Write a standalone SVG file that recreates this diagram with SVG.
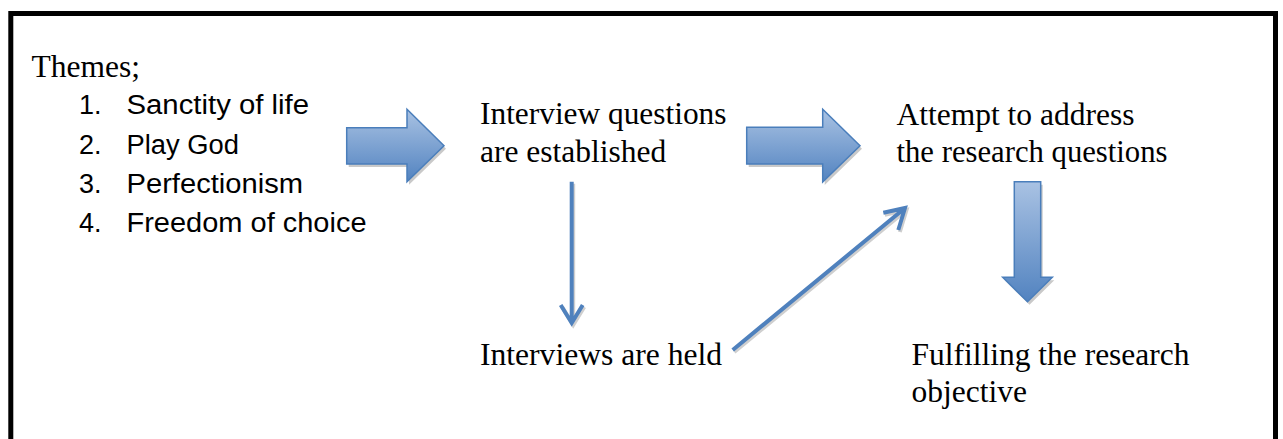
<svg xmlns="http://www.w3.org/2000/svg" width="1283" height="439" viewBox="0 0 1283 439">
<style>
.serif{font-family:"Liberation Serif","Times New Roman",serif;font-size:31.5px;fill:#000}
.sans{font-family:"Liberation Sans",Arial,sans-serif;font-size:27px;fill:#000}
.block{stroke:#4a7ebb;stroke-width:1.5;stroke-linejoin:miter}
.shadow{fill:#c9c9c9;stroke:none}
.thin{fill:none;stroke:#4f81bd;stroke-width:4;stroke-linecap:butt}
.thinsh{fill:none;stroke:#cfcfcf;stroke-width:4}
</style>
<defs>
<linearGradient id="gv" x1="0" y1="0" x2="0" y2="1">
<stop offset="0" stop-color="#a9c2e3"/>
<stop offset="1" stop-color="#5283c0"/>
</linearGradient>
</defs>
<rect x="0" y="0" width="1283" height="439" fill="#fff"/>
<path d="M10.8,439 V13.5 H1275.5 V439" fill="none" stroke="#000" stroke-width="5"/>

<g id="themes">
<text class="serif" x="31.5" y="77">Themes;</text>
<text class="sans" x="79" y="114">1.</text>
<text class="sans" x="126.5" y="114" textLength="182.5" lengthAdjust="spacingAndGlyphs">Sanctity of life</text>
<text class="sans" x="79" y="153.5">2.</text>
<text class="sans" x="126.5" y="153.5" textLength="112.5" lengthAdjust="spacingAndGlyphs">Play God</text>
<text class="sans" x="79" y="192.5">3.</text>
<text class="sans" x="126.5" y="192.5" textLength="176.5" lengthAdjust="spacingAndGlyphs">Perfectionism</text>
<text class="sans" x="79" y="232">4.</text>
<text class="sans" x="126.5" y="232" textLength="240" lengthAdjust="spacingAndGlyphs">Freedom of choice</text>
</g>

<g id="interview-questions">
<text class="serif" x="480" y="123.5" textLength="246.5" lengthAdjust="spacingAndGlyphs">Interview questions</text>
<text class="serif" x="480" y="161.5">are established</text>
</g>

<g id="attempt">
<text class="serif" x="896.5" y="124.5">Attempt to address</text>
<text class="serif" x="896.5" y="161.5" textLength="271" lengthAdjust="spacingAndGlyphs">the research questions</text>
</g>

<g id="interviews-held">
<text class="serif" x="480" y="365" textLength="242" lengthAdjust="spacingAndGlyphs">Interviews are held</text>
</g>

<g id="fulfilling">
<text class="serif" x="911.5" y="365" textLength="278" lengthAdjust="spacingAndGlyphs">Fulfilling the research</text>
<text class="serif" x="911.5" y="401.5">objective</text>
</g>

<g id="connectors">
<!-- block arrow 1 -->
<path class="shadow" transform="translate(2,3)" d="M346.7,127.7 H407 V109.3 L444,145.7 L407,181.7 V164 H346.7 Z"/>
<path class="block" fill="url(#gv)" d="M346.7,127.7 H407 V109.3 L444,145.7 L407,181.7 V164 H346.7 Z"/>
<!-- block arrow 2 -->
<path class="shadow" transform="translate(2,3)" d="M746.7,127.3 H822.7 V109.3 L860,145.7 L822.7,182 V164 H746.7 Z"/>
<path class="block" fill="url(#gv)" d="M746.7,127.3 H822.7 V109.3 L860,145.7 L822.7,182 V164 H746.7 Z"/>
<!-- block arrow down -->
<path class="shadow" transform="translate(2,3)" d="M1014.3,181.7 H1040.7 V277.3 H1052.3 L1027.5,301.7 L1002.7,277.3 H1014.3 Z"/>
<path class="block" fill="url(#gv)" d="M1014.3,181.7 H1040.7 V277.3 H1052.3 L1027.5,301.7 L1002.7,277.3 H1014.3 Z"/>
<!-- thin vertical arrow -->
<path class="thinsh" transform="translate(1.5,2)" d="M571.7,181.7 V323 M560.7,305 L571.7,323 L582.7,305"/>
<path class="thin" d="M571.7,181.7 V323 M560.7,305 L571.7,323 L582.7,305"/>
<!-- thin diagonal arrow -->
<path class="thinsh" transform="translate(1.5,2)" d="M732.7,350 L905,208 M883.3,212.7 L905,208 L898.3,230"/>
<path class="thin" d="M732.7,350 L905,208 M883.3,212.7 L905,208 L898.3,230"/>
</g>
</svg>
